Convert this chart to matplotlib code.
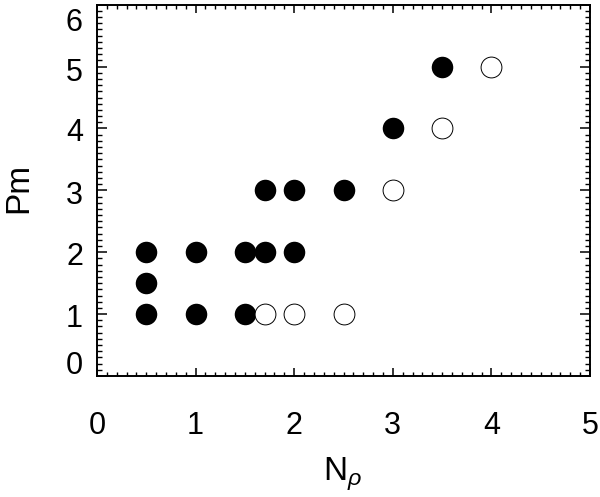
import matplotlib
matplotlib.use("Agg")
import matplotlib.pyplot as plt
from matplotlib.ticker import MultipleLocator
import matplotlib.transforms as mtransforms

# Data
filled_x = [0.5, 0.5, 0.5, 1.0, 1.0, 1.5, 1.5, 1.7, 1.7, 2.0, 2.0, 2.5, 3.0, 3.5]
filled_y = [1.0, 1.5, 2.0, 1.0, 2.0, 1.0, 2.0, 2.0, 3.0, 2.0, 3.0, 3.0, 4.0, 5.0]
open_x = [1.7, 2.0, 2.5, 3.0, 3.5, 4.0]
open_y = [1.0, 1.0, 1.0, 3.0, 4.0, 5.0]
xticks = [0, 1, 2, 3, 4, 5]
xtick_labels = ["0", "1", "2", "3", "4", "5"]
yticks = [0, 1, 2, 3, 4, 5, 6]
ytick_labels = ["0", "1", "2", "3", "4", "5", "6"]

plt.rcParams['font.family'] = ['Liberation Sans', 'DejaVu Sans']
plt.rcParams['mathtext.fontset'] = 'custom'
plt.rcParams['mathtext.rm'] = 'Liberation Sans'
plt.rcParams['mathtext.it'] = 'Liberation Sans:italic'

fig = plt.figure(figsize=(6.0, 4.97), dpi=100)
ax = fig.add_axes([97/600, 1 - 376/497, (590-97)/600, (376-4.7)/497])

ax.plot(filled_x, filled_y, 'o', color='black', markersize=15.5, markeredgewidth=0, clip_on=False)
ax.plot(open_x, open_y, 'o', markerfacecolor='white', markeredgecolor='black',
        markersize=15, markeredgewidth=0.7, clip_on=False)

ax.set_xlim(0, 5)
ax.set_ylim(0, 6)
ax.set_xticks(xticks)
ax.set_xticklabels(xtick_labels)
ax.set_yticks(yticks)
ax.xaxis.set_minor_locator(MultipleLocator(0.1))
ax.yaxis.set_minor_locator(MultipleLocator(0.1))

for s in ax.spines.values():
    s.set_linewidth(1.4)

ax.tick_params(axis='x', which='major', direction='in', top=True, bottom=True,
               length=5.5, width=1.1, labelsize=22, pad=25)
ax.tick_params(axis='x', which='minor', direction='in', top=True, bottom=True,
               length=2.8, width=1.0)
ax.tick_params(axis='y', which='major', direction='in', left=True, right=True,
               length=7.2, width=1.1, labelleft=False)
ax.tick_params(axis='y', which='minor', direction='in', left=True, right=True,
               length=3.6, width=1.0)

# y tick labels (placed like the original, with small vertical offsets in px)
offsets_px = [-10, 4.5, 5, 6, 5, 6.5, 18]
for yv, lab, off in zip(yticks, ytick_labels, offsets_px):
    tr = mtransforms.blended_transform_factory(ax.transAxes, ax.transData) + \
        mtransforms.ScaledTranslation(-14/100, -off/100, fig.dpi_scale_trans)
    ax.text(0, yv, lab, transform=tr, ha='right', va='center', fontsize=22, clip_on=False)

fig.text(19/600, 1 - 188/497, 'Pm', rotation=90, ha='center', va='center', fontsize=24)
fig.text(343/600, 1 - 474/497, r'N$_{\rho}$', ha='center', va='center', fontsize=24)

fig.savefig('out.png', dpi=100)
